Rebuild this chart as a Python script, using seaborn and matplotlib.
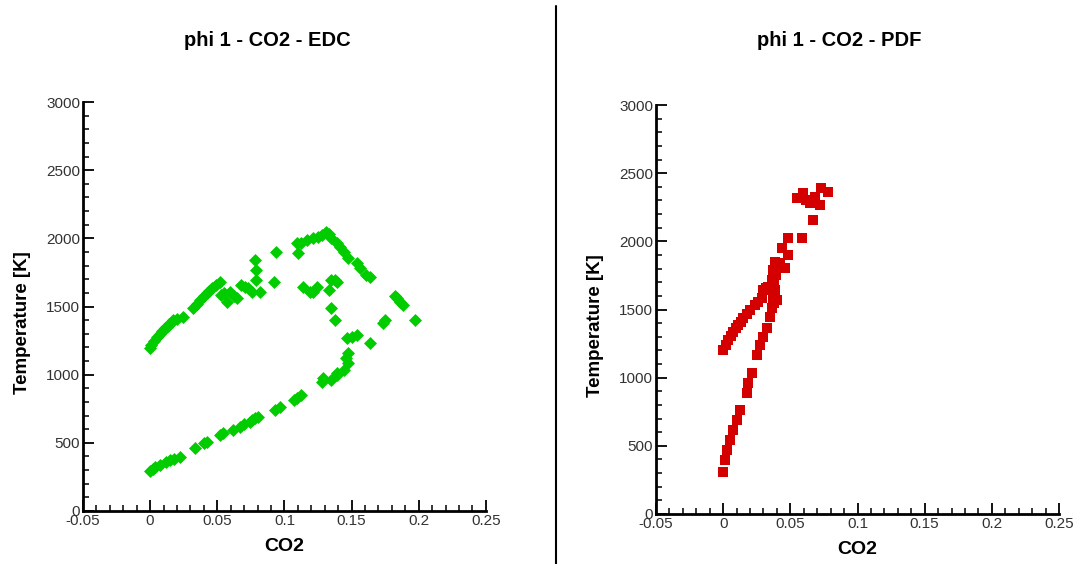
import matplotlib
matplotlib.use("Agg")
import matplotlib.pyplot as plt
from matplotlib.ticker import MultipleLocator
from matplotlib.lines import Line2D
import seaborn as sns
import pandas as pd

# ---------------- data ----------------
edc_co2 = [0.000, 0.001, 0.003, 0.005, 0.007, 0.009, 0.011, 0.0124, 0.014, 0.016, 0.0174, 0.020,
           0.0248, 0.0322, 0.035, 0.0372, 0.040, 0.042, 0.044, 0.046, 0.049, 0.052, 0.053, 0.055,
           0.057, 0.0595, 0.0625, 0.0645, 0.068, 0.071, 0.073, 0.076, 0.078, 0.079, 0.079, 0.082,
           0.092, 0.094, 0.109, 0.110, 0.112, 0.1165, 0.1215, 0.125, 0.128, 0.131, 0.133, 0.135,
           0.139, 0.141, 0.144, 0.1475, 0.154, 0.156, 0.161, 0.164,
           0.114, 0.119, 0.1215, 0.124, 0.133, 0.135, 0.138, 0.139, 0.135, 0.138, 0.1465, 0.150,
           0.154, 0.164, 0.1735, 0.175, 0.182, 0.1835, 0.186, 0.1885, 0.197,
           0.1475, 0.146, 0.1475, 0.144, 0.139, 0.139, 0.135, 0.129, 0.128, 0.112, 0.109, 0.107,
           0.097, 0.093, 0.080, 0.078, 0.076, 0.074, 0.070, 0.067, 0.062, 0.0545, 0.052, 0.042,
           0.040, 0.0335, 0.022, 0.018, 0.015, 0.012, 0.0074, 0.004, 0.002, 0.000]
edc_temp = [1196, 1215, 1245, 1279, 1300, 1320, 1340, 1352, 1370, 1390, 1401, 1410,
            1425, 1487, 1520, 1548, 1575, 1597, 1615, 1633, 1655, 1682, 1584, 1600,
            1535, 1609, 1575, 1560, 1658, 1645, 1633, 1610, 1841, 1768, 1694, 1609,
            1682, 1902, 1963, 1890, 1963, 1988, 2000, 2010, 2024, 2049, 2030, 2000,
            1963, 1939, 1900, 1853, 1817, 1780, 1731, 1720,
            1646, 1609, 1609, 1646, 1621, 1694, 1694, 1682, 1487, 1401, 1267, 1280,
            1291, 1232, 1377, 1400, 1580, 1560, 1535, 1511, 1401,
            1157, 1120, 1083, 1034, 998, 1010, 961, 973, 948, 851, 830, 814,
            765, 741, 690, 680, 667, 655, 635, 618, 594, 570, 560, 508,
            500, 460, 398, 385, 374, 360, 337, 320, 310, 296]

pdf_co2 = [0.000, 0.002, 0.0038, 0.0055, 0.0075, 0.0095, 0.0112, 0.013, 0.015, 0.0175, 0.020,
           0.0237, 0.026, 0.0287, 0.030, 0.032, 0.0336, 0.036, 0.0373, 0.0386, 0.040, 0.042,
           0.046, 0.0435, 0.0485, 0.0485, 0.0585, 0.067, 0.0547, 0.0596, 0.0646, 0.068, 0.072,
           0.073, 0.078, 0.062,
           0.000, 0.0013, 0.0026, 0.005, 0.0075, 0.010, 0.0125, 0.0174, 0.0187, 0.0212, 0.025,
           0.0274, 0.030, 0.0324, 0.035, 0.036, 0.0373, 0.0386, 0.038, 0.0395, 0.038, 0.040]
pdf_temp = [1203, 1240, 1276, 1305, 1337, 1362, 1386, 1410, 1435, 1465, 1496,
            1533, 1555, 1582, 1643, 1655, 1667, 1716, 1790, 1851, 1830, 1839,
            1802, 1949, 1900, 2022, 2022, 2157, 2316, 2352, 2279, 2328, 2267,
            2389, 2364, 2300,
            310, 396, 469, 543, 616, 690, 763, 885, 959, 1032, 1166,
            1240, 1300, 1362, 1447, 1509, 1582, 1643, 1700, 1750, 1550, 1570]

titles = ["phi 1 - CO2 - EDC", "phi 1 - CO2 - PDF"]
x_label = "CO2"
y_label = "Temperature [K]"

# ---------------- plotting ----------------
sns.set_style("white")
plt.rcParams["font.family"] = ["Liberation Sans", "DejaVu Sans"]
plt.rcParams["text.color"] = "black"
plt.rcParams["axes.labelcolor"] = "black"

fig = plt.figure(figsize=(10.76, 5.64), dpi=100)
ax1 = fig.add_axes([0.0771, 0.094, 0.3745, 0.725])
ax2 = fig.add_axes([0.6097, 0.0887, 0.3745, 0.725])

df_edc = pd.DataFrame({"CO2": edc_co2, "T": edc_temp})
df_pdf = pd.DataFrame({"CO2": pdf_co2, "T": pdf_temp})

sns.scatterplot(data=df_edc, x="CO2", y="T", ax=ax1, marker="D", s=44,
                color="#00cc00", linewidth=0)
sns.scatterplot(data=df_pdf, x="CO2", y="T", ax=ax2, marker="s", s=44,
                color="#d40000", linewidth=0)

title_x = [267 / 1076, 839 / 1076]
for ax, title, tx in zip([ax1, ax2], titles, title_x):
    ax.set_xlim(-0.05, 0.25)
    ax.set_ylim(0, 3000)
    ax.xaxis.set_major_locator(MultipleLocator(0.05))
    ax.xaxis.set_minor_locator(MultipleLocator(0.01))
    ax.yaxis.set_major_locator(MultipleLocator(500))
    ax.yaxis.set_minor_locator(MultipleLocator(100))
    ax.set_xticks([-0.05, 0, 0.05, 0.1, 0.15, 0.2, 0.25])
    ax.set_xticklabels(["-0.05", "0", "0.05", "0.1", "0.15", "0.2", "0.25"])
    ax.tick_params(which="major", direction="in", length=8, width=1.3,
                   labelsize=11, labelcolor="#333333", color="black", pad=2,
                   bottom=True, left=True)
    ax.tick_params(which="minor", direction="in", length=4, width=1.1,
                   color="black", bottom=True, left=True)
    for side in ["top", "right"]:
        ax.spines[side].set_visible(False)
    for side in ["left", "bottom"]:
        ax.spines[side].set_visible(True)
        ax.spines[side].set_linewidth(2)
        ax.spines[side].set_color("black")
    ax.set_xlabel(x_label, fontsize=14, fontweight="bold", color="black")
    ax.set_ylabel(y_label, fontsize=13.5, fontweight="bold", color="black")
    ax.xaxis.set_label_coords(0.5, -0.066)
    ax.yaxis.set_label_coords(-0.13, 0.46)
    fig.text(tx, 1 - 40 / 564, title, ha="center", va="center",
             fontsize=14.5, fontweight="bold", color="black")

fig.add_artist(Line2D([556 / 1076, 556 / 1076], [0, 1 - 6 / 564],
                      transform=fig.transFigure, color="black", linewidth=1.5))

fig.savefig("out.png", dpi=100, facecolor="white")
